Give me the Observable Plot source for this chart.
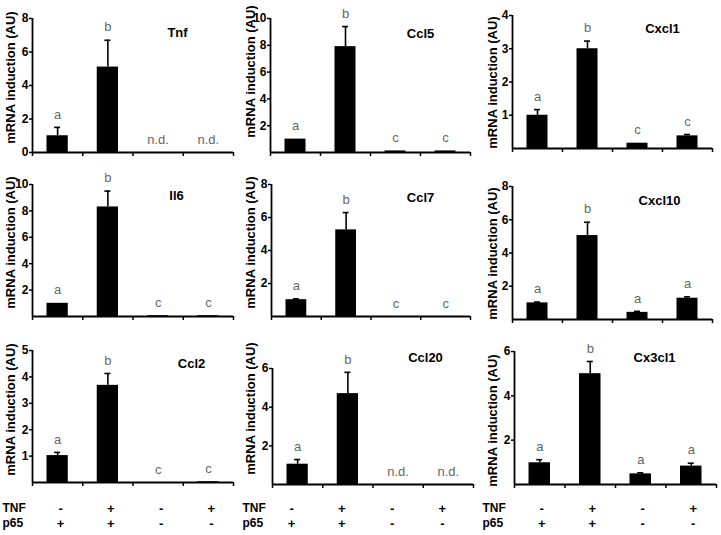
<!DOCTYPE html>
<html>
<head>
<meta charset="utf-8">
<script src="https://cdn.jsdelivr.net/npm/d3@7"></script>
<script src="https://cdn.jsdelivr.net/npm/@observablehq/plot@0.6"></script>
<style>
  html, body { margin: 0; padding: 0; background: #fff; }
  #chart { position: relative; width: 721px; height: 535px; background: #fff; overflow: hidden; }
  #chart > div { position: absolute; }
  svg { overflow: visible; }
</style>
</head>
<body>
<div id="chart"></div>
<script>
// ---------- DATA ----------
const genes = ["Tnf", "Ccl5", "Cxcl1", "Il6", "Ccl7", "Cxcl10", "Ccl2", "Ccl20", "Cx3cl1"];
const tnfSigns = ["-", "+", "-", "+"];
const p65Signs = ["+", "+", "-", "-"];
const yLabel = "mRNA induction (AU)";

const meanTnf = [1.0, 5.1, null, null];
const errTnf = [0.5, 1.6, null, null];
const lettersTnf = ["a", "b", "n.d.", "n.d."];
const ticksTnf = [0, 2, 4, 6, 8];

const meanCcl5 = [1.0, 7.9, 0.12, 0.12];
const errCcl5 = [0, 1.5, 0, 0];
const lettersCcl5 = ["a", "b", "c", "c"];
const ticksCcl5 = [2, 4, 6, 8, 10];

const meanCxcl1 = [1.0, 3.0, 0.16, 0.38];
const errCxcl1 = [0.17, 0.23, 0, 0.04];
const lettersCxcl1 = ["a", "b", "c", "c"];
const ticksCxcl1 = [1, 2, 3, 4];

const meanIl6 = [1.0, 8.3, 0.06, 0.06];
const errIl6 = [0, 1.2, 0, 0];
const lettersIl6 = ["a", "b", "c", "c"];
const ticksIl6 = [2, 4, 6, 8, 10];

const meanCcl7 = [1.02, 5.25, 0, 0];
const errCcl7 = [0.05, 1.05, 0, 0];
const lettersCcl7 = ["a", "b", "c", "c"];
const ticksCcl7 = [2, 4, 6, 8];

const meanCxcl10 = [1.0, 5.05, 0.43, 1.28];
const errCxcl10 = [0.05, 0.8, 0.06, 0.08];
const lettersCxcl10 = ["a", "b", "a", "a"];
const ticksCxcl10 = [2, 4, 6, 8];

const meanCcl2 = [1.02, 3.68, 0, 0.03];
const errCcl2 = [0.12, 0.45, 0, 0];
const lettersCcl2 = ["a", "b", "c", "c"];
const ticksCcl2 = [1, 2, 3, 4, 5];

const meanCcl20 = [1.05, 4.7, null, null];
const errCcl20 = [0.24, 1.1, null, null];
const lettersCcl20 = ["a", "b", "n.d.", "n.d."];
const ticksCcl20 = [2, 4, 6];

const meanCx3cl1 = [0.98, 5.0, 0.48, 0.83];
const errCx3cl1 = [0.14, 0.55, 0.05, 0.13];
const lettersCx3cl1 = ["a", "b", "a", "a"];
const ticksCx3cl1 = [2, 4, 6];

const means = [meanTnf, meanCcl5, meanCxcl1, meanIl6, meanCcl7, meanCxcl10, meanCcl2, meanCcl20, meanCx3cl1];
const errs = [errTnf, errCcl5, errCxcl1, errIl6, errCcl7, errCxcl10, errCcl2, errCcl20, errCx3cl1];
const letters = [lettersTnf, lettersCcl5, lettersCxcl1, lettersIl6, lettersCcl7, lettersCxcl10, lettersCcl2, lettersCcl20, lettersCx3cl1];
const ticks = [ticksTnf, ticksCcl5, ticksCxcl1, ticksIl6, ticksCcl7, ticksCxcl10, ticksCcl2, ticksCcl20, ticksCx3cl1];

// ---------- LAYOUT (styles only) ----------
const layout = [
  {left: 0,   top: 0,   w: 240, h: 170, ml: 32, mr: 7,  mt: 18, mb: 18, lx: 10, ly: 77, tx: 177, ty: 32},
  {left: 240, top: 0,   w: 240, h: 170, ml: 30, mr: 10, mt: 18, mb: 18, lx: 10, ly: 71, tx: 180, ty: 33},
  {left: 480, top: 0,   w: 241, h: 170, ml: 32, mr: 9,  mt: 15, mb: 22, lx: 12, ly: 82, tx: 182, ty: 28},
  {left: 0,   top: 170, w: 240, h: 170, ml: 32, mr: 7,  mt: 14, mb: 24, lx: 10, ly: 72, tx: 176, ty: 25},
  {left: 240, top: 170, w: 240, h: 170, ml: 31, mr: 10, mt: 14, mb: 24, lx: 10, ly: 72, tx: 180, ty: 27},
  {left: 480, top: 170, w: 241, h: 170, ml: 32, mr: 9,  mt: 16, mb: 21, lx: 12, ly: 83, tx: 179, ty: 30},
  {left: 0,   top: 340, w: 240, h: 195, ml: 32, mr: 7,  mt: 10, mb: 53, lx: 10, ly: 69, tx: 191, ty: 23, sdx: 3},
  {left: 240, top: 340, w: 240, h: 195, ml: 32, mr: 7,  mt: 28, mb: 51, lx: 10, ly: 68, tx: 185, ty: 17, sdx: -6},
  {left: 480, top: 340, w: 241, h: 195, ml: 34, mr: 5,  mt: 11, mb: 51, lx: 12, ly: 80, tx: 174, ty: 17, sdx: 2}
];

const font = "'Liberation Sans', Arial, Helvetica, sans-serif";
const container = document.getElementById("chart");

genes.forEach((gene, g) => {
  const L = layout[g];
  const data = means[g].map((m, i) => ({
    idx: i,
    mean: m,
    err: errs[g][i],
    letter: letters[g][i],
    top: (m ?? 0) + (errs[g][i] ?? 0)
  }));
  const bars = data.filter(d => d.mean != null && d.mean > 0);
  const errData = data.filter(d => d.err != null && d.err > 0);
  const maxY = d3.max(ticks[g]);
  const zeroY = L.h - L.mb;

  const marks = [
    Plot.rectY(bars, {x: "idx", y: "mean", interval: 1, insetLeft: 14.5, insetRight: 14.5, fill: "#000"}),
    Plot.ruleX(errData, {x: d => d.idx + 0.5, y1: "mean", y2: "top", stroke: "#000", strokeWidth: 1.6}),
    Plot.ruleY(errData, {y: "top", x1: d => d.idx + 0.44, x2: d => d.idx + 0.56, stroke: "#000", strokeWidth: 1.6}),
    Plot.text(data, {x: d => d.idx + 0.5, y: "top", text: "letter", dy: -13, fill: "#666", fontSize: 13, lineAnchor: "middle"}),
    Plot.axisY({ticks: ticks[g], tickFormat: d => String(d), tickSize: 3, tickPadding: 1, fontSize: 12, fontWeight: "bold", label: null, strokeWidth: 1.5}),
    Plot.axisX({ticks: [0, 1, 2, 3, 4], tickSize: 4, tickFormat: () => "", label: null, strokeWidth: 1.5}),
    Plot.ruleX([0], {stroke: "#000", strokeWidth: 1.8}),
    Plot.ruleY([0], {stroke: "#000", strokeWidth: 1.8}),
    Plot.text([gene], {frameAnchor: "top-left", dx: L.tx - L.ml, dy: L.ty - L.mt, text: d => d, textAnchor: "middle", lineAnchor: "middle", fontWeight: "bold", fontSize: 13}),
    Plot.text([yLabel], {frameAnchor: "top-left", dx: L.lx - L.ml, dy: L.ly - L.mt, text: d => d, rotate: -90, textAnchor: "middle", lineAnchor: "middle", fontWeight: "bold", fontSize: 13})
  ];

  if (L.sdx !== undefined) {
    marks.push(
      Plot.text(data, {x: d => d.idx + 0.5, frameAnchor: "bottom", text: d => tnfSigns[d.idx], dx: L.sdx, dy: 168 - zeroY, fontWeight: "bold", fontSize: 13, lineAnchor: "middle"}),
      Plot.text(data, {x: d => d.idx + 0.5, frameAnchor: "bottom", text: d => p65Signs[d.idx], dx: L.sdx, dy: 183 - zeroY, fontWeight: "bold", fontSize: 13, lineAnchor: "middle"}),
      Plot.text(["TNF"], {frameAnchor: "bottom-left", text: d => d, dx: 2 - L.ml, dy: 168 - zeroY, textAnchor: "start", lineAnchor: "middle", fontWeight: "bold", fontSize: 12}),
      Plot.text(["p65"], {frameAnchor: "bottom-left", text: d => d, dx: 2 - L.ml, dy: 183 - zeroY, textAnchor: "start", lineAnchor: "middle", fontWeight: "bold", fontSize: 12})
    );
  }

  const chart = Plot.plot({
    width: L.w,
    height: L.h,
    marginLeft: L.ml,
    marginRight: L.mr,
    marginTop: L.mt,
    marginBottom: L.mb,
    x: {type: "linear", domain: [0, 4]},
    y: {type: "linear", domain: [0, maxY]},
    style: {fontFamily: font, color: "#000", background: "transparent", overflow: "visible"},
    marks
  });
  const holder = document.createElement("div");
  holder.style.left = L.left + "px";
  holder.style.top = L.top + "px";
  holder.style.width = L.w + "px";
  holder.style.height = L.h + "px";
  holder.appendChild(chart);
  container.appendChild(holder);
});
</script>
</body>
</html>
